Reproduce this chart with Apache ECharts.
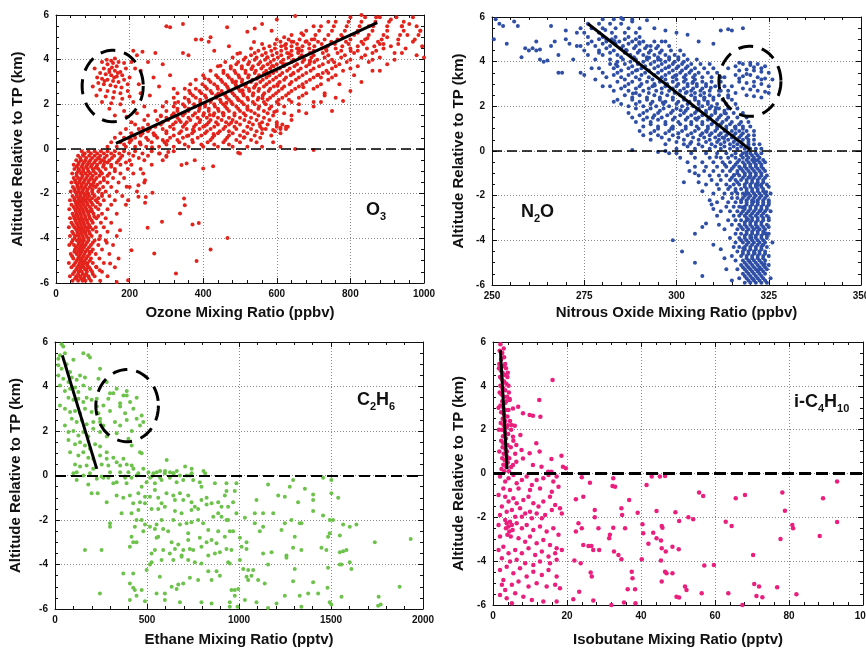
<!DOCTYPE html>
<html>
<head>
<meta charset="utf-8"/>
<title>Altitude relative to tropopause</title>
<script src="https://cdn.jsdelivr.net/npm/echarts@6/dist/echarts.min.js"></script>
<style>
  body { margin: 0; padding: 0; background: #fff; }
  #chart { width: 866px; height: 649px; }
</style>
</head>
<body>
<div id="chart"></div>
<script type="text/javascript">
// rows are [altitude, x1, x2, ...]
const o3LowerRows = [
  [-5.9, 45,60,72,80,95,120], [-5.8, 52,68,76,90], [-5.7, 38,55,66,78,88,105,140], [-5.6, 46,60,73,82,100],
  [-5.5, 50,62,70,84,98,125], [-5.4, 55,66,79,94], [-5.3, 42,58,68,75,90,110,160], [-5.2, 48,62,72,85],
  [-5.1, 35,52,64,73,86,100,130], [-5.0, 56,68,78,92], [-4.9, 47,60,70,82,95,118,170], [-4.8, 44,62,74,86],
  [-4.7, 40,56,66,77,91,108,145], [-4.6, 50,60,69,80,96], [-4.5, 52,63,72,85,100,125], [-4.4, 55,66,76,90],
  [-4.3, 36,49,60,70,80,95,115,155], [-4.2, 42,62,72,84,100], [-4.1, 45,57,67,76,88,105,135], [-4.0, 50,64,75,88],
  [-3.9, 38,52,62,72,83,97,120,165], [-3.8, 47,60,70,80,92], [-3.7, 44,58,68,78,90,110,140], [-3.6, 55,65,74,86,100],
  [-3.5, 35,50,61,70,80,93,108,130], [-3.4, 46,58,68,78,90], [-3.3, 42,55,65,75,86,100,122,150], [-3.2, 53,64,73,84,97],
  [-3.1, 38,50,60,70,80,92,110,135], [-3.0, 48,58,68,79,90,115], [-2.9, 45,56,66,76,88,102,125,165], [-2.8, 54,64,74,85,98],
  [-2.7, 36,52,62,72,83,96,115,140], [-2.6, 48,58,68,79,92,108], [-2.5, 42,55,65,75,86,100,120,150,190], [-2.4, 54,64,73,84,96],
  [-2.3, 38,50,60,70,80,92,108,130,160], [-2.2, 50,62,73,85,98,115], [-2.1, 45,57,67,78,90,105,125,145,180], [-2.0, 56,66,76,88,100,125],
  [-1.9, 40,52,62,72,84,98,115,135,165,220], [-1.8, 50,62,74,86,99,118], [-1.7, 46,58,68,79,92,108,128,150,200], [-1.6, 58,70,82,95,112],
  [-1.5, 42,54,64,75,88,102,120,140,170,240], [-1.4, 52,65,78,90,105,130], [-1.3, 48,60,70,82,95,110,130,155,185], [-1.2, 56,72,86,100,118,140],
  [-1.1, 44,56,68,80,93,108,125,145,175,210], [-1.0, 60,74,88,102,120,160], [-0.9, 50,62,74,86,100,115,135,160,195,230],
  [-0.8, 56,70,82,95,110,128,150], [-0.7, 48,60,72,85,98,112,130,150,175,205,260], [-0.6, 62,76,90,104,120,140,165,190],
  [-0.5, 55,68,80,93,108,125,145,170,200,240,290], [-0.4, 66,82,98,114,132,152,175,225],
  [-0.3, 60,75,90,105,120,138,158,180,210,250,300], [-0.2, 78,95,112,130,150,172,198,235,280],
  [-0.1, 70,88,105,122,140,160,185,215,260,320]
];
const o3UpperRows = [
  [0.1, 140,165,190,215,245,280,320,360,400,440,480,520,560,610], [0.2, 185,230,300,350,395,430,470],
  [0.3, 150,175,200,228,260,295,335,372,412,455,500,545,590], [0.4, 205,250,290,330,370,420,460,490,530],
  [0.5, 160,185,215,245,275,310,345,385,425,465,510,555], [0.6, 230,270,320,360,395,430,470,500,540,585],
  [0.7, 175,205,235,265,300,335,370,405,440,480,520,560,610], [0.8, 250,300,340,375,410,445,470,510,545,595],
  [0.9, 190,225,255,290,320,355,390,420,455,490,530,570,610,625], [1.0, 270,310,345,375,400,430,460,485,520,555,600,630],
  [1.1, 215,250,285,318,350,380,410,440,470,500,535,575,615], [1.2, 290,325,355,390,415,435,462,490,525,560,600],
  [1.3, 240,275,305,335,365,392,420,450,480,512,545,580], [1.4, 300,330,360,385,410,440,470,500,530,565],
  [1.5, 250,285,315,345,372,400,428,455,485,515,550,590,640], [1.6, 320,350,378,402,430,455,485,510,540,575,620],
  [1.7, 270,300,330,360,388,415,442,470,500,530,565,600,660], [1.8, 330,360,390,415,440,465,495,520,550,580],
  [1.9, 290,320,350,378,405,432,460,490,520,552,585,620], [2.0, 345,375,405,430,455,480,510,540,570,605,660],
  [2.1, 300,332,362,392,420,448,476,505,535,565,600,640,700], [2.2, 360,392,422,446,470,495,522,548,575,605],
  [2.3, 320,350,380,408,436,464,492,520,550,582,615,660], [2.4, 372,405,435,460,485,510,535,562,590,625,670],
  [2.5, 330,365,395,424,452,480,508,536,566,598,632,680,730], [2.6, 390,420,450,475,500,525,550,578,605,640],
  [2.7, 350,380,410,440,468,496,524,552,582,614,650,700], [2.8, 405,438,465,490,515,540,565,592,620,660,710],
  [2.9, 365,398,430,460,488,516,544,572,602,635,670,720,770], [3.0, 420,452,480,505,530,555,580,608,640,680],
  [3.1, 380,415,448,478,506,534,562,590,620,652,690,740], [3.2, 440,470,498,522,548,572,598,625,660,700,750],
  [3.3, 400,435,466,496,524,552,580,608,638,670,710,760,810], [3.4, 455,488,515,540,565,590,615,645,680,725],
  [3.5, 420,455,485,515,543,571,599,628,658,692,735,780], [3.6, 475,505,532,558,582,608,635,665,700,750,800],
  [3.7, 440,475,505,535,563,591,619,648,680,715,760,820], [3.8, 490,522,550,575,600,625,655,688,725,770],
  [3.9, 460,495,525,555,583,611,640,670,702,740,790,850], [4.0, 510,540,568,592,618,645,675,710,750,800,860],
  [4.1, 480,515,545,575,603,632,662,694,730,775,830,880], [4.2, 530,560,588,612,640,668,700,740,785,840],
  [4.3, 500,540,570,600,628,658,690,725,765,810,860,920], [4.4, 550,585,612,640,668,700,735,775,820,870],
  [4.5, 530,565,595,625,655,688,722,760,800,845,890,950], [4.6, 580,612,640,670,702,738,778,820,865],
  [4.7, 560,595,625,655,688,722,758,795,835,880,930], [4.8, 610,645,678,712,748,788,830,875],
  [4.9, 600,632,662,695,730,765,800,840,885,930,975], [5.1, 640,672,705,740,775,810,850,890,935,985],
  [5.3, 680,715,750,785,820,860,900,945,990], [5.5, 720,755,790,825,862,900,940,980],
  [5.7, 760,795,830,868,905,945], [5.9, 800,840,880,925,970]
];
const o3Cluster = [
  [125,3.9],[140,3.8],[155,3.85],[165,3.7],[130,3.6],[145,3.55],[160,3.5],[175,3.45],[120,3.4],[135,3.35],[150,3.3],
  [165,3.25],[180,3.3],[125,3.15],[140,3.1],[155,3.05],[170,3.0],[185,3.1],[115,2.95],[130,2.9],[148,2.85],[162,2.8],
  [178,2.75],[195,2.9],[120,2.65],[140,2.6],[158,2.55],[175,2.5],[195,2.6],[110,2.4],[135,2.35],[155,2.3],[180,2.25],
  [200,2.35],[125,2.1],[150,2.05],[175,2.0],[210,2.1],[145,1.8],[185,1.7],[160,1.5],[215,3.6],[205,3.9],[190,3.6],
  [200,3.2],[225,2.9],[230,2.5],[210,4.4],[220,4.2],[112,3.2],[100,2.8],[105,3.6],[138,4.0],[150,3.95],[170,3.9],
  [185,3.85],[160,4.05],[145,3.45],[158,3.2],[132,3.05],[168,3.4],[152,3.65]
];
const o3Fill = [
  [372,0.86],[418,1.52],[463,2.07],[507,2.63],[546,3.14],[587,3.72],[633,4.28],[681,4.83],[339,1.21],[391,1.93],
  [441,2.48],[489,3.02],[531,3.58],[574,4.11],[622,4.64],[667,5.18],[303,0.37],[356,0.58],[404,1.03],[453,1.61],
  [497,2.18],[538,2.74],[579,3.29],[617,3.82],[659,4.37],[702,4.91],[428,0.67],[476,1.18],[521,1.76],[561,2.27],
  [602,2.83],[645,3.38],[690,3.95],[734,4.47],[779,5.02],[512,0.53],[553,1.12],[593,1.66],[633,2.21],[672,2.77],
  [713,3.33],[756,3.88],[801,4.39],[846,4.96],[267,0.62],[236,0.94],[285,1.47],[323,2.06],[362,2.61],[404,3.17],
  [447,3.73],[493,4.27],[538,4.79],[586,5.29],[228,0.27],[261,0.08],[199,0.46],
  [57,-5.75],[83,-5.37],[64,-4.93],[91,-4.61],[71,-4.26],[59,-3.87],[86,-3.52],[67,-3.14],[94,-2.78],[61,-2.42],
  [81,-2.06],[69,-1.67],[97,-1.33],[63,-0.96],[88,-0.63],[117,-0.44],[77,-5.12],[53,-4.47],[79,-3.69],[56,-2.97],
  [74,-2.23],[53,-1.48],[83,-0.81],[73,-0.27],[108,-0.84],[132,-0.57],[101,-1.64],[122,-1.06],[113,-2.38],[104,-3.03],
  [117,-4.04],[109,-5.27]
];
const o3Scatter = [
  [242,-1.4],[244,-2.15],[262,-1.96],[242,-2.41],[288,-3.26],[249,-3.53],[350,-2.52],[348,-2.22],[337,-2.89],[371,-3.38],
  [388,-3.31],[382,-5.01],[326,-5.58],[267,-4.68],[420,-4.5],[466,-3.98],[341,-0.72],[355,-0.65],[377,-0.5],[400,-0.87],
  [427,-0.77],[500,-0.2],[495,-0.17],[205,-4.53],[147,-5.13],[196,-5.88],[165,-5.95],[119,-5.43],[138,-4.2],[174,-3.64],
  [192,-1.69],[196,-2.29],[224,-1.62],[224,-2.14],[237,-1.1],[282,-0.2],[300,-0.35],[305,-0.13],[192,1.44],
  [300,5.5],[310,5.45],[345,5.6],[360,4.2],[345,4.3],[380,4.9],[395,4.9],[420,5.0],[465,5.45],[520,5.25],[470,4.6],
  [430,4.4],[415,4.8],[270,4.3],[250,3.9],[235,4.35],[230,3.5],[265,3.2],[290,3.8],[310,3.3],[320,2.7],[280,2.8],
  [255,2.4],[240,1.9],[220,1.6],[205,1.2],[650,0.0],[700,-0.05],[560,0.9],[590,0.85],[610,0.95],[625,1.0],[600,1.1],
  [640,1.3],[680,1.6],[700,1.9],[720,2.1],[760,2.3],[780,2.15],[750,1.7],[730,2.4],[800,2.6],[830,3.0],[860,3.5],
  [880,3.5],[900,3.8],[920,4.0],[940,4.3],[980,4.2],[1000,4.1],[995,4.6],[970,4.8],[955,5.1],[990,5.3],[960,5.6],
  [940,5.5],[910,5.8],[870,5.9],[830,6.0],[650,5.95],[600,5.8],[560,5.6],[540,5.4],[700,5.5],[740,5.7],[890,4.7],
  [910,4.6],[900,5.0],[720,3.2],[740,3.4],[690,3.9],[660,4.5],[620,5.0],[640,4.8],[820,5.2],[850,5.5]
];

const n2oLowerRows = [
  [-5.9, 318.5,320,321.5,323,324.5], [-5.8, 319.5,321,322.5,324], [-5.7, 317,319,320.5,322,323.5,325.5], [-5.6, 318.5,320,321.5,323],
  [-5.5, 318,319.5,321,322.5,324], [-5.4, 319,320.5,322,323.5], [-5.3, 316.5,318.5,320,321.5,323,324.5], [-5.2, 318,319.5,321,322.5,324],
  [-5.1, 317.5,319,320.5,322,323.5,325], [-5.0, 318.5,320,321.5,323], [-4.9, 316,318,319.5,321,322.5,324], [-4.8, 319,320.5,322,323.5],
  [-4.7, 315,317.5,319,320.5,322,323.5,325], [-4.6, 318,319.5,321,322.5,324], [-4.5, 316.5,318,319.5,321,322.5,324], [-4.4, 318.5,320,321.5,323],
  [-4.3, 315.5,317,318.5,320,321.5,323,324.5], [-4.2, 319,320.5,322,323.5], [-4.1, 316,318,319.5,321,322.5,324,326], [-4.0, 317.5,319,320.5,322,323.5],
  [-3.9, 314.5,317,318.5,320,321.5,323,324.5], [-3.8, 318.5,320,321.5,323,324.5], [-3.7, 316,317.5,319,320.5,322,323.5,325], [-3.6, 319,320.5,322,323.5],
  [-3.5, 313,316.5,318,319.5,321,322.5,324], [-3.4, 317.5,319,320.5,322,323.5,325], [-3.3, 315,317,318.5,320,321.5,323,324.5], [-3.2, 318.5,320,321.5,323],
  [-3.1, 314,316,317.5,319,320.5,322,323.5,325], [-3.0, 319,320.5,322,323.5,325], [-2.9, 315.5,317,318.5,320,321.5,323,324.5], [-2.8, 317.5,319,320.5,322,323.5],
  [-2.7, 312,314.5,316.5,318,319.5,321,322.5,324,325.5], [-2.6, 318.5,320,321.5,323,324.5], [-2.5, 313.5,315.5,317,318.5,320,321.5,323,324.5], [-2.4, 319,320.5,322,323.5,325],
  [-2.3, 311,314,316,317.5,319,320.5,322,323.5,325], [-2.2, 317.5,319,320.5,322,323.5,325], [-2.1, 312.5,315,316.5,318,319.5,321,322.5,324], [-2.0, 318.5,320,321.5,323,324.5],
  [-1.9, 310,313,315,316.5,318,319.5,321,322.5,324,325.5], [-1.8, 316,319,320.5,322,323.5], [-1.7, 311.5,314,316,317.5,319,320.5,322,323.5], [-1.6, 314.5,318.5,320,321.5,323,325],
  [-1.5, 308,311,313.5,315.5,317,318.5,320,321.5,323,324.5], [-1.4, 316.5,319,320.5,322,323.5], [-1.3, 309.5,312,314.5,316,317.5,319,320.5,322,323.5], [-1.2, 315,318,319.5,321,322.5,324],
  [-1.1, 306,309,311.5,313.5,315.5,317,318.5,320,321.5,323,324.5], [-1.0, 316.5,318.5,320,321.5,323], [-0.9, 307.5,310,312.5,314.5,316.5,318,319.5,321,322.5,324], [-0.8, 315,317.5,319,320.5,322,323.5],
  [-0.7, 305,308,311,313.5,315.5,317,318.5,320,321.5,323], [-0.6, 316,318.5,320,321.5,323], [-0.5, 303,307,310,312.5,314.5,316.5,318,319.5,321,322.5,324], [-0.4, 317,319,320.5,322,323.5],
  [-0.3, 301,305,309,312,314,316,318,319.5,321,322.5], [-0.2, 315,317.5,319,320.5,322], [-0.1, 298,304,308,311,313.5,316,318,320,321.5,323]
];
const n2oUpperRows = [
  [0.1, 300,305,309,312,314.5,316.5,318.5,320,321.5,323], [0.2, 303,307,310.5,313,315.5,317.5,319.5],
  [0.3, 297,302,306,309.5,312,314.5,316.5,318,319.5,321,322.5], [0.4, 300,304,308,311,313,315.5,317.5,319.5],
  [0.5, 293,298,302,306,309,311.5,314,316,318,319.5,321], [0.6, 296,300.5,304.5,307.5,310.5,312.5,315,317,319],
  [0.7, 291,295,299,303,306.5,309,311.5,313.5,315.5,317.5,319.5,321], [0.8, 293,297,300.5,304,307,309.5,312,314,316,318],
  [0.9, 290,294,298,301.5,305,308,310.5,313,315,317,319,321], [1.0, 295,299,302.5,306,308.5,311,313.5,316,318],
  [1.1, 291,295,299,302.5,305.5,308.5,311,313.5,316,318,320], [1.2, 293,297,301,304,307,309.5,312,314.5,317],
  [1.3, 289,293,297,300.5,304,307,310,312.5,315,317.5,319.5], [1.4, 291,295,299,302.5,305.5,308.5,311,313.5],
  [1.5, 288,292,296,299.5,303,306,309,311.5,314,316.5,319], [1.6, 290,294,297.5,301,304,307,309.5,312],
  [1.7, 287,291,295,298.5,302,305,308,310.5,313,315.5,318], [1.8, 292,295.5,299,302.5,305.5,308,310.5,313],
  [1.9, 289,293,296.5,300,303,306,309,311.5,314,316.5], [2.0, 287,291,294.5,298,301.5,304.5,307,309.5],
  [2.1, 285,289,293,296.5,300,303,306,308.5,311,313.5,316], [2.2, 290,293.5,297,300.5,303.5,306,308.5],
  [2.3, 284,288,292,295.5,299,302,305,307.5,310,312.5,315], [2.4, 288,292,295.5,299,302,305,307.5,310],
  [2.5, 286,290,294,297.5,301,304,306.5,309,311.5,314], [2.6, 289,292.5,296,299.5,302.5,305,307.5],
  [2.7, 283,287,291,294.5,298,301,304,306.5,309,311.5,314], [2.8, 285,289,292.5,296,299,302,304.5,307],
  [2.9, 282,286,290,293.5,297,300,303,305.5,308,310.5,313], [3.0, 287,290.5,294,297.5,300.5,303,305.5,308],
  [3.1, 284,288,292,295.5,299,302,304.5,307,309.5,312], [3.2, 286,290,293.5,297,300,302.5,305],
  [3.3, 281,285,289,292.5,296,299,302,304.5,307,309.5,312], [3.4, 283,287,290.5,294,297,300,302.5,305],
  [3.5, 280,284,288,291.5,295,298,301,303.5,306,308.5,311], [3.6, 285,289,292.5,296,299,301.5,304],
  [3.7, 279,283,287,290.5,294,297,300,302.5,305,307.5,310], [3.8, 284,288,291.5,295,298,300.5,303],
  [3.9, 282,286,289.5,293,296,299,301.5,304,306.5,309], [4.0, 284,287.5,291,294,297,299.5,302],
  [4.1, 278,282,285.5,289,292,295,298,300.5,303,305.5], [4.2, 285,288.5,292,295,298,300.5],
  [4.3, 276,280,284,287.5,291,294,297,299.5,302], [4.4, 282,286,289.5,292.5,295.5],
  [4.5, 275,279,283,286.5,290,293,296,298.5,301], [4.6, 281,285,288.5,291.5,294.5],
  [4.7, 274,278,282,285.5,289,292,295,298], [4.8, 280,283.5,287,290],
  [4.9, 277,281,284.5,288,291,294,297], [5.0, 279,282.5,286,289],
  [5.1, 276,280,283.5,287,290], [5.3, 275,279,282.5,286,289], [5.5, 274,277,280,283.5,287],
  [5.7, 276,279,282,285], [5.9, 280,283,285.5,288]
];
const n2oCluster = [
  [316,3.8],[318,3.9],[320,3.85],[322,3.9],[324,3.8],[317,3.6],[319,3.65],[321,3.6],[323,3.55],[325,3.5],[316,3.4],
  [318,3.35],[320,3.4],[322,3.3],[324,3.25],[317,3.1],[319,3.05],[321,3.1],[323,3.0],[325,2.9],[315,2.9],[318,2.8],
  [320,2.75],[322,2.7],[324,2.65],[316,2.6],[319,2.5],[321,2.45],[323,2.4],[314,2.4],[313,3.3],[314,3.7],[312,2.7],
  [326,3.2],[325,2.6],[320,3.95],[317,3.95],[323,3.7],[321,3.75],[319,3.45],[323,3.2],[321,2.9],[317,3.25]
];
const n2oFill = [
  [320.8,-5.75],[322.3,-5.33],[319.7,-4.93],[321.2,-4.57],[323.3,-4.22],[320.3,-3.86],[321.8,-3.43],[319.4,-3.07],
  [322.7,-2.66],[320.9,-2.27],[318.7,-1.93],[322.1,-1.52],[319.9,-1.16],[317.3,-0.77],[321.4,-0.43],[318.9,-0.07],
  [323.9,-5.06],[318.1,-4.36],[324.2,-3.68],[317.8,-2.52],[324.3,-1.84],[315.6,-1.07],[313.1,-0.62],[310.8,-0.27],
  [303.7,0.33],[308.2,0.86],[298.6,1.02],[305.1,1.45],[310.7,1.92],[296.3,2.17],[302.8,2.64],[294.1,2.93],[299.6,3.37],
  [289.4,3.63],[295.7,4.07],[286.3,4.52],[292.6,4.18],[283.2,4.93],[280.7,5.42],[312.9,0.58],[315.8,1.07],[307.6,2.38],
  [304.3,3.04],[297.9,3.76],[289.9,4.87],[301.1,1.83],[293.6,1.49],[288.2,2.58],[313.4,1.68],[309.3,2.83],[283.6,3.88]
];
const n2oScatter = [
  [302,-1.4],[303.5,-0.9],[305,-1.0],[306,-1.4],[307,-1.8],[309,-2.2],[309.5,-2.4],[310,-2.6],[311,-2.9],[311.5,-3.3],
  [307,-3.4],[305,-3.7],[305,-5.0],[307,-5.6],[301.5,-4.5],[299,-4.0],[310,-4.2],[312,-4.4],[313,-4.8],[313.5,-5.3],
  [315,-5.8],[308,-3.25],[300,-0.1],[297,0.0],[288,0.05],[295,-0.05],
  [251,5.9],[252,5.7],[253,5.6],[254,4.8],[256,5.8],[257,5.6],[259,4.6],[260,4.5],[261,4.6],[262,4.5],[263,4.55],
  [263,4.1],[264,4.0],[265,4.05],[266,4.7],[266,5.6],[268,4.3],[268,3.5],[269,3.5],[270,5.4],[271,4.8],[272,4.1],
  [273,4.7],[274,3.5],[275,3.4],[276,4.8],[277,3.7],[270,5.0],[273,5.3],[258,4.2],[262,4.9],[250.5,5.0],[267,4.9],
  [279,4.4],[281,5.0],[278,3.2],[280,2.9],[283,2.2],[285,5.95],[288,5.8],[290,5.5],[292,5.85],[294,5.5],[297,5.4],
  [300,5.3],[303,5.2],[306,4.9],[310,4.8],[312,5.4],[314,5.45],[315,5.4],[318,5.5],[296,4.9],[293,4.7]
];

const c2h6Points = [
  [100,0.1],[118,-0.2],[181,-0.4],[253,-0.05],[290,-0.1],[317,-0.35],[335,-0.3],[380,-0.05],[389,-0.35],[416,-0.1],
  [443,0],[471,-0.5],[498,-0.3],[525,-0.05],[543,-0.35],[579,-0.2],[597,0.1],[624,-0.1],[643,0.1],[661,-0.3],[679,0],
  [697,-0.2],[733,0],[751,-0.2],[787,-0.3],[796,-0.5],[869,-0.35],[932,-0.35],[986,-0.35],[1158,-0.4],[1276,-0.5],
  [1294,-0.2],[1358,-0.6],[1457,-0.1],[1502,-0.2],[1539,-1.0],[1502,-0.8],[1403,-0.85],[1403,-1.1],[1321,-1.2],
  [1249,-0.95],[1213,-0.9],[1095,-1.1],
  [199,-0.8],[232,-0.8],[281,-1.2],[335,-0.9],[371,-1.0],[407,-0.9],[425,-1.25],[453,-0.8],[462,-1.2],[489,-0.95],
  [489,-1.25],[516,-0.95],[543,-0.65],[561,-1.0],[579,-1.25],[606,-0.8],[643,-0.9],[652,-1.1],[679,-0.8],[697,-1.1],
  [724,-0.9],[742,-1.2],[760,-1.4],[796,-1.1],[824,-1.0],[851,-1.25],[887,-1.2],[905,-1.4],[923,-0.9],[932,-0.7],
  [941,-1.4],[968,-1.2],[986,-1.7],[977,-0.7],[1086,-1.7],[1131,-1.7],[1186,-1.7],[1285,-2.0],[1330,-2.15],[1403,-1.6],
  [1457,-1.8],[362,-1.7],[416,-1.7],[453,-1.55],[525,-1.5],[561,-1.5],[597,-1.4],[652,-1.6],[688,-1.7],[742,-1.55],
  [778,-1.5],[824,-1.3],[860,-1.85],[887,-1.7],[905,-1.85],[932,-2.0],
  [299,-2.15],[299,-2.3],[443,-2.0],[471,-2.0],[434,-2.3],[489,-2.2],[480,-2.5],[516,-2.3],[543,-2.4],[552,-2.2],
  [579,-2.0],[588,-2.4],[615,-2.5],[643,-2.0],[679,-2.2],[715,-2.15],[724,-2.6],[742,-2.1],[778,-2.0],[805,-2.15],
  [833,-2.45],[887,-2.5],[941,-2.0],[950,-2.5],[968,-2.5],[1032,-1.9],[1086,-2.15],[1113,-2.5],[1131,-2.3],[1231,-2.45],
  [1249,-2.15],[1339,-2.15],[1303,-2.75],[1493,-2.0],[1511,-2.0],[1566,-2.2],[1602,-2.3],[1638,-2.2],[1493,-2.6],
  [1548,-2.7],[1738,-3.0],[1933,-2.85],[1005,-2.8],[1041,-3.0],[416,-2.75],[443,-3.0],[552,-2.8],[561,-2.75],[634,-3.0],
  [670,-3.1],[724,-2.9],[787,-2.8],[824,-3.0],[851,-2.9],[878,-3.05],[923,-2.75],
  [163,-3.35],[253,-3.35],[407,-3.2],[425,-3.0],[525,-3.5],[543,-3.35],[588,-3.35],[624,-3.5],[652,-3.3],[688,-3.6],
  [697,-3.35],[733,-3.3],[751,-3.35],[796,-3.2],[833,-3.6],[869,-3.5],[896,-3.45],[932,-3.3],[959,-3.35],[1014,-3.2],
  [1041,-3.3],[1131,-3.5],[1177,-3.45],[1258,-3.6],[1258,-3.7],[1294,-3.25],[1339,-3.35],[1448,-3.25],[1475,-3.35],
  [1548,-3.45],[1566,-3.4],[1484,-2.75],[1584,-3.35],
  [498,-4.25],[516,-4.0],[525,-3.9],[579,-3.8],[643,-3.8],[688,-3.65],[724,-3.8],[760,-3.9],[796,-3.95],[941,-3.9],
  [950,-3.95],[1005,-3.8],[1023,-4.2],[1050,-4.25],[1068,-4.5],[1077,-4.25],[1158,-4.0],[1303,-4.2],[1484,-4.15],
  [1548,-4.0],[1557,-4.0],[1602,-3.9],[1611,-4.2],[371,-4.4],[425,-4.4],[878,-4.3],[896,-4.5],[851,-4.7],[634,-5.0],
  [570,-4.55],[670,-4.9],[697,-4.85],[733,-4.6],[778,-4.7],[833,-4.3],
  [407,-4.85],[425,-5.05],[434,-5.15],[443,-5.4],[471,-5.15],[244,-5.3],[407,-5.6],[489,-5.65],[597,-5.6],[552,-5.3],
  [597,-5.3],[661,-5.1],[679,-5.7],[796,-5.7],[851,-5.75],[950,-5.7],[950,-5.9],[959,-5.15],[977,-5.15],[996,-5.1],
  [977,-5.4],[992,-5.9],[1041,-4.55],[1050,-4.7],[1104,-4.7],[1140,-4.85],[1032,-5.6],[1095,-5.7],[1158,-5.95],
  [1204,-5.75],[1249,-5.4],[1294,-4.75],[1330,-5.4],[1339,-5.9],[1403,-4.8],[1430,-5.3],[1481,-5.05],[1493,-5.7],
  [1502,-5.8],[1557,-5.45],[1759,-5.45],[1770,-5.8],[1756,-5.85],[1873,-5.0],[1376,-5.3],
  [36,5.9],[27,5.4],[54,5.5],[18,4.95],[36,4.8],[63,5.0],[82,4.65],[100,5.2],[18,4.5],[45,4.35],[73,4.2],[91,4.4],
  [118,4.3],[136,4.5],[163,4.4],[181,5.4],[190,5.3],[27,4.05],[54,3.8],[82,3.9],[109,3.95],[127,3.75],[154,4.05],
  [190,3.9],[73,3.5],[100,3.4],[127,3.45],[154,3.3],[172,3.5],[199,3.4],[227,3.45],[236,4.35],[27,3.15],[54,3.0],
  [82,2.85],[109,2.9],[136,2.8],[163,3.0],[199,2.85],[227,3.1],[263,3.15],[91,2.55],[118,2.4],[145,2.5],[172,2.3],
  [208,2.4],[245,2.55],[54,2.25],[73,1.95],[100,2.0],[127,1.8],[154,1.95],[181,1.75],[208,2.1],[245,1.95],[281,1.75],
  [73,1.6],[109,1.4],[136,1.5],[163,1.35],[190,1.2],[218,1.4],[245,1.3],[281,1.05],[82,1.05],[127,0.9],[154,1.05],
  [181,0.8],[208,0.75],[245,0.9],[281,0.75],[317,0.8],[109,0.5],[136,0.4],[172,0.45],[208,0.3],[254,0.5],[290,0.45],
  [335,0.6],[354,0.15],[118,0.15],[154,0.0],[190,0.1],[227,-0.15],[263,-0.1],[299,0.15],[18,5.25],[45,5.8],[154,5.5],
  [245,4.8],[281,4.2],[299,3.7],[236,2.8],[263,2.25],
  [290,3.45],[317,3.7],[335,3.9],[372,3.6],[390,3.8],[408,3.3],[354,3.1],[381,2.8],[426,3.0],[299,2.9],[326,2.4],
  [354,2.25],[390,2.5],[444,2.55],[471,2.7],[480,2.4],[390,3.6],[399,1.65],[417,1.35],[462,1.05],[471,1.0],[335,1.9],
  [245,2.4],[354,3.25],[444,3.5],[462,2.25],[417,2.0],
  [372,0.75],[390,0.5],[417,0.45],[354,0.45],[399,0.15],[426,0.3],[453,0.1],[381,-0.1],[480,0.3],[508,0.15],[535,0.1],
  [553,0.15],[571,0.2],[598,0.2],[625,0.15],[644,0.1],[607,0.7],[662,0.2],[707,0.4],[743,0.3],[743,0.1],[716,0.0],
  [571,-0.1],[517,-0.1],[816,0.1],[807,0.2]
];

const ic4Points = [
  [2,5.9],[1.8,5.6],[2.5,5.5],[3,5.3],[2.2,5.2],[1.7,5.0],[2.8,4.9],[3.5,4.8],[2.1,4.7],[2.6,4.6],[3.2,4.5],[1.9,4.4],
  [2.4,4.3],[3,4.2],[3.6,4.1],[4.2,4.0],[2,4.0],[2.7,3.9],[3.3,3.8],[1.8,3.7],[2.3,3.6],[3,3.5],[3.8,3.5],[4.5,3.4],
  [2.5,3.3],[3.2,3.2],[2,3.1],[2.8,3.0],[3.5,2.9],[4.2,2.9],[2.2,2.8],[3,2.7],[3.9,2.6],[2.6,2.5],[3.3,2.4],[4.6,2.4],
  [2.1,2.3],[2.9,2.2],[3.7,2.1],[2.4,2.0],[3.2,1.9],[4.1,1.8],[2.7,1.7],[3.5,1.6],[2.2,1.5],[3,1.4],[3.9,1.3],[4.8,1.2],
  [2.6,1.2],[3.4,1.1],[2.9,0.9],[3.7,0.8],[4.4,0.7],[2.5,0.7],[3.2,0.6],[4,0.5],[2.8,0.4],[3.6,0.3],[4.9,0.3],[2.3,0.2],
  [3.1,0.1],[4.3,0.1],[1.6,4.8],[3.9,4.4],[4.3,3.7],[4.9,2.0],[5.5,1.5],[6,0.9],[1.5,3.0],[1.6,2.0],[1.7,1.0],[2.9,5.7],
  [3.3,5.0],[4,4.6],[2.5,3.9],[3.6,3.3],[4.0,2.2],[2.7,1.4],[3.8,1.0],
  [16.1,4.27],[12.5,3.35],[6.8,3.05],[8.1,2.75],[9.9,2.67],[10.8,2.64],[12.8,2.59],[7.4,1.76],[5.9,2.18],[11.7,1.38],
  [12.6,1.0],[15.8,0.66],[18.5,0.81],[15.8,0.08],[18.9,0.31],[19.7,0.24],[9.9,0.92],[8.1,0.69],[6.3,0.54],[5.4,0.39],
  [10.8,0.39],[13.1,0.31],[14.9,0.08],[7.7,1.07],[6.3,1.3],[5.4,1.68],[5.0,2.21],[4.5,3.35],[5.4,2.97],
  [1.9,-0.14],[3.3,-0.37],[4.2,-0.22],[5.5,-0.07],[6.4,-0.45],[7.8,-0.3],[9.1,-0.14],[10.5,-0.52],[11.8,-0.3],
  [13.6,-0.22],[15,-0.07],[16.3,-0.37],[17.2,-0.14],[2.8,-0.68],[4.6,-0.75],[6.9,-0.68],[10,-0.75],[12.7,-0.68],
  [15.9,-0.83],[17.7,-0.6],
  [1.5,-0.98],[3.3,-1.06],[4.2,-1.28],[5.5,-1.13],[6.4,-1.36],[8.2,-1.21],[9.6,-1.06],[10.9,-1.36],[12.3,-1.51],
  [13.6,-1.28],[15.4,-1.06],[16.8,-1.44],[18.1,-1.59],[2.4,-1.51],[3.7,-1.74],[5.1,-1.66],[7.3,-1.59],[8.7,-1.82],
  [10,-1.74],[11.8,-1.82],[14.1,-1.89],[15.9,-1.66],[18.6,-1.82],[1.9,-1.89],[6,-1.97],[7.8,-1.97],[10.5,-2.04],[13.2,-2.04],
  [3.3,-2.12],[3.7,-2.27],[4.2,-2.42],[4.6,-2.2],[5.1,-2.35],[3.5,-2.5],[4.4,-2.65],[5.3,-2.58],[3.9,-2.8],[4.8,-2.88],
  [1.5,-2.35],[6.4,-2.27],[7.8,-2.5],[9.1,-2.35],[10.9,-2.58],[12.7,-2.42],[14.5,-2.65],[16.3,-2.5],[17.7,-2.8],
  [1.9,-2.88],[6.9,-2.96],[8.7,-3.11],[10,-2.88],[11.8,-3.18],[13.6,-3.03],[15.4,-3.26],[17.2,-3.41],[1.5,-3.49],
  [2.8,-3.34],[4.2,-3.64],[6,-3.49],[7.8,-3.64],[9.6,-3.41],[11.4,-3.72],[13.2,-3.56],[15,-3.79],[16.8,-3.64],
  [18.6,-3.49],[2.4,-3.87],[4.6,-4.02],[6.4,-3.94],[8.7,-4.1],[10.9,-4.17],[12.7,-4.02],[15.4,-4.1],[17.2,-3.94],
  [1.9,-4.4],[3.7,-4.25],[5.5,-4.55],[7.3,-4.32],[9.1,-4.7],[10.9,-4.48],[13.2,-4.63],[15,-4.4],[17.2,-4.7],[2.8,-4.86],
  [5.1,-5.08],[6.9,-4.93],[9.6,-5.16],[11.8,-5.01],[14.5,-5.16],[16.8,-5.08],[18.1,-5.24],[1.9,-5.54],[3.7,-5.69],
  [6,-5.46],[8.2,-5.62],[10.5,-5.77],[13.6,-5.84],[17.2,-5.84],[5.1,-5.92],[3.3,-5.31],[2.4,-5.08],
  [24.0,-0.17],[26.2,-0.42],[32.5,-0.22],[33.0,-0.6],[32.3,-0.57],[41.5,-0.52],[42.9,-0.14],[45.1,-0.14],[46.5,-0.11],
  [55.7,-0.87],[56.8,-1.03],[65.6,-1.13],[68.1,-0.98],[78.2,-0.87],[78.9,-1.7],[89.2,-1.13],[93.0,-0.37],[93.0,-2.21],
  [80.9,-2.35],[81.1,-2.5],[88.3,-2.85],[77.7,-2.99],[70.3,-3.72],[62.9,-2.2],[64.5,-2.4],[54.1,-2.09],[52.8,-2.0],
  [50.3,-2.17],[49.3,-1.77],[44.2,-1.71],[40.4,-2.32],[42.0,-3.21],[43.3,-2.7],[44.2,-2.96],[45.6,-2.4],[45.8,-2.47],
  [45.4,-3.06],[45.6,-3.41],[46.7,-3.56],[48.5,-3.34],[50.2,-3.46],[45.4,-3.97],[46.5,-4.48],[46.9,-4.55],[40.2,-3.91],
  [51.9,-5.16],[52.3,-5.31],[49.6,-5.62],[50.3,-5.66],[56.4,-5.46],[59.7,-4.17],[57.1,-4.2],[63.6,-5.46],[67.4,-6.0],
  [70.6,-5.04],[71.9,-5.16],[71.2,-5.59],[72.8,-5.65],[76.8,-5.19],[82.0,-5.51],[39.1,-1.79],[22.4,-1.18],[24.4,-1.06],
  [27.5,-1.66],[27.5,-2.0],[23.1,-2.27],[22.4,-2.65],[24.0,-2.5],[24.4,-3.26],[25.8,-3.31],[26.6,-3.31],[28.7,-3.49],
  [27.1,-3.49],[28.5,-2.5],[31.6,-2.8],[31.4,-2.96],[32.5,-2.47],[32.7,-3.56],[33.9,-3.72],[34.7,-3.91],[35.7,-2.5],
  [34.7,-1.59],[34.9,-1.89],[36.8,-1.21],[40.6,-2.73],[26.4,-4.52],[26.7,-4.7],[23.3,-5.39],[27.1,-5.8],[22.0,-3.97],
  [23.7,-4.1],[37.5,-4.48],[37.7,-4.78],[36.4,-5.28],[38.4,-5.28],[35.4,-5.89],[38.5,-5.92],[32.0,-6.0],[21.7,-5.74],
  [48.5,-4.55],[45.6,-4.93]
];

// fitted lines (two end points each) and dashed rings [cx, cy, rx, ry]
const o3Fit = [[163, 0.25], [873, 5.66]];
const n2oFit = [[276, 5.7], [320, 0.05]];
const c2h6Fit = [[40, 5.4], [227, 0.3]];
const ic4Fit = [[2.0, 5.63], [3.8, 0.2]];
const o3Ring = [154, 2.82, 83, 1.6];
const n2oRing = [319.9, 3.12, 8.4, 1.57];
const c2h6Ring = [392, 3.14, 170, 1.62];

// axes: [min, max, interval]
const o3Range = [0, 1000, 200];
const n2oRange = [250, 350, 25];
const c2h6Range = [0, 2000, 500];
const ic4Range = [0, 100, 20];
const altRange = [-6, 6, 2];

function fromRows(rows) {
  const out = [];
  rows.forEach(function (r) {
    for (let k = 1; k < r.length; k++) out.push([r[k], r[0]]);
  });
  return out;
}

const FONT = '"Liberation Sans", Arial, Helvetica, sans-serif';
const INK = '#111';

const grids = [
  {left: 56, top: 15, width: 368, height: 268},
  {left: 492, top: 17, width: 369, height: 268},
  {left: 55, top: 342, width: 368, height: 267},
  {left: 493, top: 342, width: 370, height: 263}
];
grids.forEach(function (g) { g.outerBoundsMode = 'none'; g.containLabel = false; });

function tickStyle(minorSplit) {
  return {
    axisLine: {show: true, onZero: false, lineStyle: {color: INK, width: 1}},
    axisTick: {show: true, inside: true, length: 5, lineStyle: {color: INK, width: 1}},
    minorTick: {show: true, splitNumber: minorSplit, length: 3, lineStyle: {color: INK, width: 1}}
  };
}

function plain(v) { return String(v); }

let xAxes = [];
let yAxes = [];
function addAxes(i, xr, xName, xGap, yGap) {
  xAxes.push(Object.assign({
    gridIndex: i, type: 'value', position: 'bottom', min: xr[0], max: xr[1], interval: xr[2],
    name: xName, nameLocation: 'middle', nameGap: xGap, nameMoveOverlap: false,
    nameTextStyle: {fontFamily: FONT, fontSize: 15, fontWeight: 'bold', color: INK},
    axisLabel: {fontFamily: FONT, fontSize: 10, fontWeight: 'bold', color: INK, margin: 6, formatter: plain,
      showMinLabel: true, showMaxLabel: true, hideOverlap: false},
    splitLine: {show: true, lineStyle: {color: '#8a8a8a', width: 1, type: [1, 2]}}
  }, tickStyle(5)));
  xAxes.push(Object.assign({
    gridIndex: i, type: 'value', position: 'top', min: xr[0], max: xr[1], interval: xr[2],
    axisLabel: {show: false}, splitLine: {show: false}
  }, tickStyle(5)));
  yAxes.push(Object.assign({
    gridIndex: i, type: 'value', position: 'left', min: altRange[0], max: altRange[1], interval: altRange[2],
    name: 'Altitude Relative to TP (km)', nameLocation: 'middle', nameGap: yGap, nameRotate: 90,
    nameMoveOverlap: false,
    nameTextStyle: {fontFamily: FONT, fontSize: 15, fontWeight: 'bold', color: INK},
    axisLabel: {fontFamily: FONT, fontSize: 10, fontWeight: 'bold', color: INK, margin: 7, formatter: plain,
      showMinLabel: true, showMaxLabel: true, hideOverlap: false},
    splitLine: {show: true, lineStyle: {color: '#8a8a8a', width: 1, type: [1, 2]}}
  }, tickStyle(4)));
  yAxes.push(Object.assign({
    gridIndex: i, type: 'value', position: 'right', min: altRange[0], max: altRange[1], interval: altRange[2],
    axisLabel: {show: false}, splitLine: {show: false}
  }, tickStyle(4)));
}
addAxes(0, o3Range, 'Ozone Mixing Ratio (ppbv)', 22, 31);
addAxes(1, n2oRange, 'Nitrous Oxide Mixing Ratio (ppbv)', 20, 26);
addAxes(2, c2h6Range, 'Ethane Mixing Ratio (pptv)', 23, 32);
addAxes(3, ic4Range, 'Isobutane Mixing Ratio (pptv)', 27, 27);

function zeroLine(width, dash) {
  return {
    symbol: 'none', silent: true, label: {show: false},
    lineStyle: {color: '#000', width: width, type: dash},
    data: [{yAxis: 0}]
  };
}

function dots(i, data, color, size, zw, zd) {
  return {
    type: 'scatter', xAxisIndex: 2 * i, yAxisIndex: 2 * i, data: data, symbolSize: size,
    itemStyle: {color: color, opacity: 1}, silent: true, z: 2, animation: false,
    markLine: zeroLine(zw, zd)
  };
}

function fitLine(i, data) {
  return {
    type: 'line', xAxisIndex: 2 * i, yAxisIndex: 2 * i, data: data, symbol: 'none', silent: true,
    lineStyle: {color: '#000', width: 3}, z: 5, animation: false
  };
}

function ring(i, r) {
  return {
    type: 'custom', xAxisIndex: 2 * i, yAxisIndex: 2 * i, data: [r], silent: true, z: 6, animation: false,
    renderItem: function (params, api) {
      const c = api.coord([api.value(0), api.value(1)]);
      const ex = api.coord([api.value(0) + api.value(2), api.value(1)]);
      const ey = api.coord([api.value(0), api.value(1) + api.value(3)]);
      const rx = ex[0] - c[0];
      const ry = c[1] - ey[1];
      const pts = [];
      for (let k = 0; k <= 90; k++) {
        const a = k / 90 * Math.PI * 2;
        pts.push([c[0] + rx * Math.cos(a), c[1] + ry * Math.sin(a)]);
      }
      return {
        type: 'polyline', shape: {points: pts},
        style: {stroke: '#000', lineWidth: 3, lineDash: [15, 9], fill: null}
      };
    }
  };
}

const o3Points = fromRows(o3LowerRows).concat(fromRows(o3UpperRows), o3Cluster, o3Fill, o3Scatter);
const n2oPoints = fromRows(n2oLowerRows).concat(fromRows(n2oUpperRows), n2oCluster, n2oFill, n2oScatter);

function label(x, y, parts) {
  let text = '';
  parts.forEach(function (p) { text += '{' + (p[1] ? 's' : 'm') + '|' + p[0] + '}'; });
  return {
    type: 'text', left: x, top: y, z: 50, silent: true,
    style: {
      text: text, fill: INK,
      rich: {
        m: {fontFamily: FONT, fontSize: 18, fontWeight: 'bold', fill: INK, lineHeight: 24},
        s: {fontFamily: FONT, fontSize: 11, fontWeight: 'bold', fill: INK, lineHeight: 12, verticalAlign: 'bottom'}
      }
    }
  };
}

const chart = echarts.init(document.getElementById('chart'), null, {renderer: 'canvas'});
chart.setOption({
  backgroundColor: '#fff',
  animation: false,
  textStyle: {fontFamily: FONT},
  grid: grids,
  xAxis: xAxes,
  yAxis: yAxes,
  series: [
    dots(0, o3Points, '#e3241c', 4, 1.5, [10, 5]),
    dots(1, n2oPoints, '#2f4fa6', 4, 1.5, [10, 5]),
    dots(2, c2h6Points, '#6cc24a', 4, 2, [11, 5]),
    dots(3, ic4Points, '#ea1f7d', 4.5, 3, [12, 5]),
    fitLine(0, o3Fit), fitLine(1, n2oFit), fitLine(2, c2h6Fit), fitLine(3, ic4Fit),
    ring(0, o3Ring), ring(1, n2oRing), ring(2, c2h6Ring)
  ],
  graphic: [
    label(366, 201, [['O'], ['3', 1]]),
    label(521, 203, [['N'], ['2', 1], ['O']]),
    label(357, 391, [['C'], ['2', 1], ['H'], ['6', 1]]),
    label(794, 393, [['i-C'], ['4', 1], ['H'], ['10', 1]])
  ]
});
</script>
</body>
</html>
